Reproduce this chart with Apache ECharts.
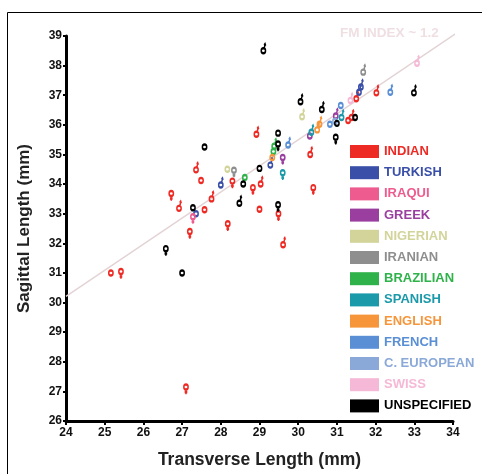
<!DOCTYPE html>
<html>
<head>
<meta charset="utf-8">
<script src="https://cdn.jsdelivr.net/npm/echarts@6/dist/echarts.min.js"></script>
<style>
  html, body { margin: 0; padding: 0; background: #fff; }
  #chart { width: 482px; height: 474px; }
</style>
</head>
<body>
<div id="chart"></div>
<script>
// groups and their points: [transverse, sagittal, sex] (m = male, f = female, o = not given)
const categories = ['INDIAN', 'TURKISH', 'IRAQUI', 'GREEK', 'NIGERIAN', 'IRANIAN', 'BRAZILIAN',
  'SPANISH', 'ENGLISH', 'FRENCH', 'C. EUROPEAN', 'SWISS', 'UNSPECIFIED'];

const indian = [
  [25.16, 31.0, 'o'], [25.42, 31.05, 'f'], [26.72, 33.68, 'f'], [26.92, 33.18, 'm'],
  [27.2, 32.4, 'f'], [27.1, 27.15, 'f'], [27.36, 34.48, 'm'], [27.49, 34.12, 'o'],
  [27.58, 33.13, 'o'], [27.76, 33.5, 'm'], [28.18, 32.66, 'f'], [28.3, 34.1, 'f'],
  [28.83, 33.88, 'f'], [29.03, 34.0, 'm'], [28.92, 35.68, 'm'], [29.0, 33.15, 'o'],
  [29.49, 33.0, 'f'], [29.61, 31.95, 'm'], [30.31, 35.0, 'm'], [30.39, 33.88, 'f'],
  [31.29, 36.15, 'o'], [31.38, 36.25, 'm'], [31.5, 36.88, 'm'], [32.02, 37.08, 'm']
];
const turkish = [[27.36, 33.0, 'o'], [28.0, 33.97, 'm'], [29.28, 34.64, 'm'], [31.57, 37.1, 'm'], [31.62, 37.28, 'm']];
const iraqui = [[27.28, 32.9, 'f']];
const greek = [[29.6, 34.9, 'f'], [30.3, 35.62, 'o'], [30.97, 36.3, 'm']];
const nigerian = [[28.17, 34.5, 'o'], [30.1, 36.27, 'm']];
const iranian = [[28.34, 34.47, 'f'], [31.68, 37.78, 'm']];
const brazilian = [[28.62, 34.22, 'o'], [29.38, 35.28, 'm'], [29.36, 35.1, 'o']];
const spanish = [[29.6, 34.38, 'f'], [30.34, 35.75, 'm'], [31.12, 36.25, 'm']];
const english = [[29.33, 34.9, 'o'], [30.49, 35.83, 'm'], [30.55, 36.02, 'm']];
const french = [[29.74, 35.32, 'm'], [30.82, 36.02, 'o'], [31.1, 36.65, 'o'], [32.38, 37.1, 'm']];
const cEuropean = [[30.95, 36.12, 'o']];
const swiss = [[33.07, 38.08, 'm'], [31.35, 36.82, 'm']];
const unspecified = [
  [29.1, 38.5, 'm'], [27.58, 35.25, 'o'], [27.28, 33.2, 'o'], [26.58, 31.82, 'f'],
  [27.0, 31.0, 'o'], [28.48, 33.35, 'm'], [28.58, 34.0, 'o'], [29.0, 34.53, 'o'],
  [29.48, 35.72, 'o'], [29.48, 35.35, 'f'], [29.48, 33.3, 'f'], [30.06, 36.78, 'm'],
  [30.61, 36.52, 'm'], [31.0, 36.05, 'o'], [30.97, 35.58, 'f'], [31.47, 36.25, 'o'],
  [32.99, 37.08, 'm']
];
const groups = [indian, turkish, iraqui, greek, nigerian, iranian, brazilian,
  spanish, english, french, cEuropean, swiss, unspecified];

// FM index reference line (two end points)
const fmLine = [[24, 30.21], [34.46, 39.42]];

const xTicks = [24, 34];
const yTicks = [26, 39];

const colors = ['#ee2a24', '#3a4fa8', '#ee5b8f', '#9a3fa0', '#d2d49a', '#8e8e8e', '#2fb24a',
  '#1b9aaa', '#f7953a', '#5a8fd6', '#8aa8d8', '#f5b8d6', '#000000'];

// gender marks, same box so they all scale the same
const ring = 'M-4.5 7.5M4.5 -7.5M-3.6 0C-3.6 -1.4 -1.99 -2.5 0 -2.5C1.99 -2.5 3.6 -1.4 3.6 0' +
  'C3.6 1.4 1.99 2.5 0 2.5C-1.99 2.5 -3.6 1.4 -3.6 0Z';
const SYM = {
  o: 'path://' + ring,
  m: 'path://' + ring + 'M1.4 -2.3L2.8 -6.6M1.2 -5.6L2.8 -6.9L3.8 -5',
  f: 'path://' + ring + 'M0 2.5L0 7.2M-2.2 5L2.2 5'
};

const font = 'Liberation Sans';
const myChart = echarts.init(document.getElementById('chart'));

const series = [{
  name: 'FM',
  type: 'line',
  data: fmLine,
  clip: false,
  silent: true,
  symbol: 'none',
  z: 1,
  lineStyle: { color: '#e3d3d5', width: 1.5 }
}];
groups.forEach((g, i) => {
  series.push({
    name: categories[i],
    type: 'scatter',
    z: 2 + i,
    symbolSize: [9, 15],
    symbolKeepAspect: true,
    itemStyle: { color: 'none', borderColor: colors[i], borderWidth: 1.9, opacity: 1 },
    data: g.map(d => ({ value: [d[0], d[1]], symbol: SYM[d[2]] }))
  });
});

myChart.setOption({
  animation: false,
  grid: { left: 66, right: 29, top: 36, bottom: 53 },
  graphic: [
    { type: 'rect', shape: { x: 7.5, y: 12.5, width: 490, height: 480 },
      style: { fill: 'none', stroke: '#000', lineWidth: 1 }, silent: true },
    { type: 'text', left: 340, top: 26,
      style: { text: 'FM INDEX ~ 1.2', fill: '#efdfe3', font: 'bold 13.5px "Liberation Sans"' } }
  ],
  legend: {
    orient: 'vertical',
    left: 350,
    top: 145,
    padding: 0,
    itemWidth: 29,
    itemHeight: 13,
    itemGap: 8.2,
    itemTextGap: 4,
    icon: 'rect',
    selectedMode: false,
    textStyle: { fontFamily: font, fontWeight: 'bold', fontSize: 13 },
    data: categories.map((c, i) => ({
      name: c,
      itemStyle: { color: colors[i], borderWidth: 0, opacity: 1 },
      textStyle: { color: colors[i] }
    }))
  },
  xAxis: {
    type: 'value',
    min: xTicks[0],
    max: xTicks[1],
    interval: 1,
    name: 'Transverse Length (mm)',
    nameLocation: 'middle',
    nameGap: 30,
    nameTextStyle: { fontFamily: font, fontWeight: 'bold', fontSize: 17.5, color: '#222' },
    splitLine: { show: false },
    axisLine: { lineStyle: { color: '#000', width: 3 } },
    axisTick: { length: 4, lineStyle: { color: '#000', width: 2 } },
    axisLabel: { fontFamily: font, fontWeight: 'bold', fontSize: 12, color: '#111', margin: 6 }
  },
  yAxis: {
    type: 'value',
    min: yTicks[0],
    max: yTicks[1],
    interval: 1,
    name: 'Sagittal Length (mm)',
    nameLocation: 'middle',
    nameGap: 33,
    nameTextStyle: { fontFamily: font, fontWeight: 'bold', fontSize: 17, color: '#222' },
    splitLine: { show: false },
    axisLine: { show: true, lineStyle: { color: '#000', width: 3 } },
    axisTick: { show: true, length: 3, lineStyle: { color: '#000', width: 2 } },
    axisLabel: { fontFamily: font, fontWeight: 'bold', fontSize: 12, color: '#111', margin: 4 }
  },
  series: series
});
</script>
</body>
</html>
